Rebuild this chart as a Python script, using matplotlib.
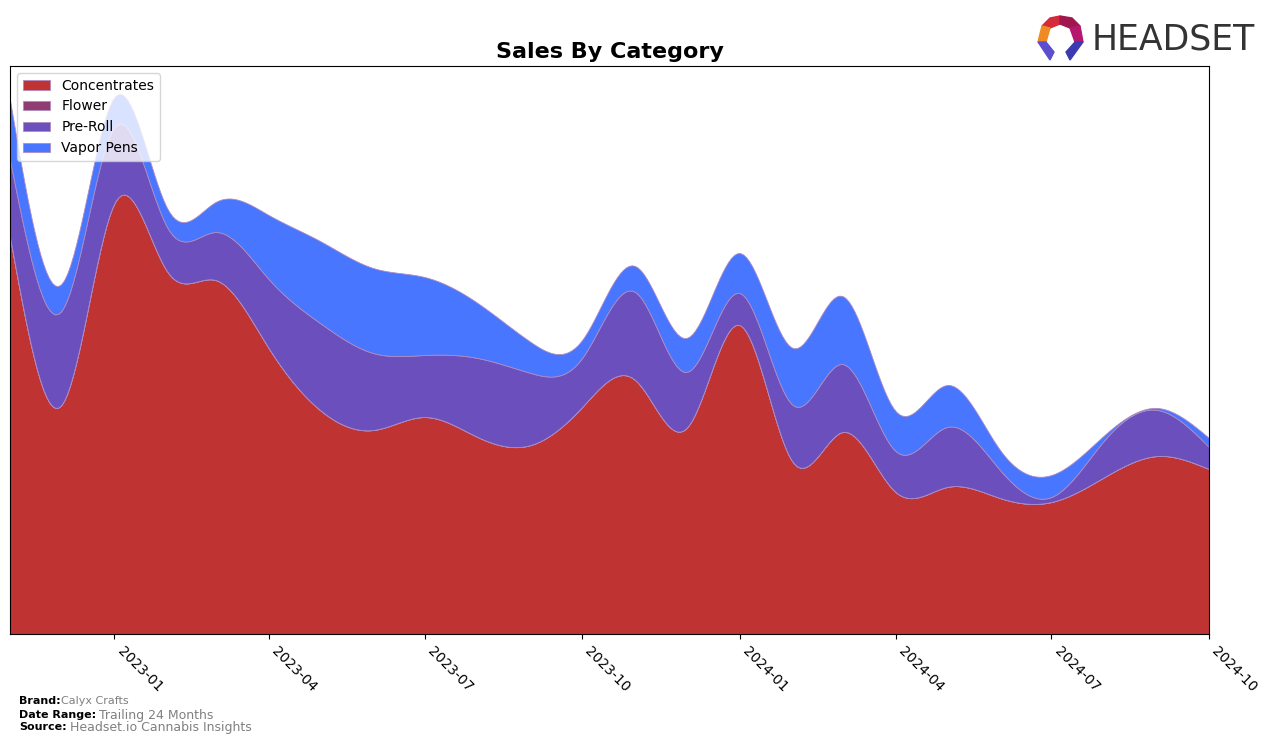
import numpy as np
import pandas as pd
import matplotlib
matplotlib.use('Agg')
import matplotlib.pyplot as plt
import matplotlib.dates as mdates
from matplotlib.patches import Polygon

# monthly values (arbitrary units)
months = pd.date_range('2022-11-01', '2024-10-01', freq='MS')
concentrates = [397, 229, 431, 362, 354, 286, 224, 204, 217, 197, 189, 227,
                254, 206, 309, 172, 202, 142, 147, 136, 132, 157, 178, 165]
flower = [0] * 24
pre_roll = [77, 94, 76, 44, 48, 69, 87, 77, 62, 79, 72, 49,
            88, 56, 32, 57, 68, 41, 60, 28, 5, 37, 46, 22]
vapor_pens = [60, 27, 30, 19, 30, 64, 82, 85, 78, 55, 31, 18,
              26, 34, 40, 57, 68, 40, 42, 20, 22, 5, 2, 9]
labels = ['Concentrates', 'Flower', 'Pre-Roll', 'Vapor Pens']
colors = ['#c03333', '#8f3d73', '#6a4fbd', '#4876ff']


def smooth(x, y, n=400):
    # natural cubic spline through the monthly points
    x = np.asarray(x, float)
    y = np.asarray(y, float)
    h = np.diff(x)
    m = len(x)
    A = np.zeros((m, m))
    b = np.zeros(m)
    A[0, 0] = 1
    A[-1, -1] = 1
    for i in range(1, m - 1):
        A[i, i - 1] = h[i - 1]
        A[i, i] = 2 * (h[i - 1] + h[i])
        A[i, i + 1] = h[i]
        b[i] = 3 * ((y[i + 1] - y[i]) / h[i] - (y[i] - y[i - 1]) / h[i - 1])
    c = np.linalg.solve(A, b)
    bb = (y[1:] - y[:-1]) / h - h * (2 * c[:-1] + c[1:]) / 3
    d = (c[1:] - c[:-1]) / (3 * h)
    xs = np.linspace(x[0], x[-1], n)
    k = np.clip(np.searchsorted(x, xs) - 1, 0, m - 2)
    t = xs - x[k]
    ys = y[k] + bb[k] * t + c[k] * t ** 2 + d[k] * t ** 3
    return xs, np.clip(ys, 0, None)


xn = mdates.date2num(months)
series = [concentrates, flower, pre_roll, vapor_pens]
smoothed = [smooth(xn, s)[1] for s in series]
xs = smooth(xn, concentrates)[0]

fig = plt.figure(figsize=(12.76, 7.44), dpi=100)
ax = fig.add_axes([10 / 1276, 110 / 744, 1199 / 1276, 568 / 744])
ax.stackplot(xs, smoothed, labels=labels, colors=colors, linewidth=0.6,
             edgecolor='#b08ac0')
ax.set_xlim(xn[0], xn[-1])
ax.set_ylim(0, 568)
ax.set_yticks([])
ax.xaxis.set_major_locator(mdates.MonthLocator(bymonth=[1, 4, 7, 10]))
ax.xaxis.set_major_formatter(mdates.DateFormatter('%Y-%m'))
for lab in ax.get_xticklabels():
    lab.set_rotation(-45)
    lab.set_ha('left')
    lab.set_fontsize(10)
ax.set_title('Sales By Category', fontsize=16, fontweight='bold', pad=6)
ax.legend(loc='upper left', fontsize=10)

# footer
fig.text(19 / 1276, 1 - 701 / 744, 'Brand:', fontsize=8, fontweight='bold', va='center')
fig.text(61 / 1276, 1 - 701 / 744, 'Calyx Crafts', fontsize=8, color='gray', va='center')
fig.text(19 / 1276, 1 - 715 / 744, 'Date Range:', fontsize=8, fontweight='bold', va='center')
fig.text(99 / 1276, 1 - 715 / 744, 'Trailing 24 Months', fontsize=9, color='gray', va='center')
fig.text(19 / 1276, 1 - 727 / 744, 'Source:', fontsize=8, fontweight='bold', va='center')
fig.text(70 / 1276, 1 - 727 / 744, 'Headset.io Cannabis Insights', fontsize=9, color='gray', va='center')

# logo
fig.text(1092 / 1276, 1 - 39 / 744, 'HEADSET', fontsize=25, color='#333333',
         va='center', ha='left')
def pt(px, py):
    return (px / 1276, 1 - py / 744)
pieces = [
    ([(1042, 26), (1050, 18), (1060, 16), (1060, 24), (1050, 28)], '#d42a3a'),
    ([(1060, 16), (1072, 18), (1080, 26), (1070, 28), (1060, 24)], '#a0174f'),
    ([(1080, 26), (1083, 42), (1075, 42), (1070, 28)], '#b5186c'),
    ([(1042, 26), (1050, 28), (1046, 42), (1038, 42)], '#f08a24'),
    ([(1038, 42), (1046, 42), (1054, 52), (1050, 60)], '#5b4fcf'),
    ([(1083, 42), (1075, 42), (1066, 52), (1070, 60)], '#3c3ab0'),
]
for verts, col in pieces:
    fig.patches.append(Polygon([pt(*v) for v in verts], closed=True, color=col,
                               transform=fig.transFigure, figure=fig))

fig.savefig('out.png', dpi=100)
